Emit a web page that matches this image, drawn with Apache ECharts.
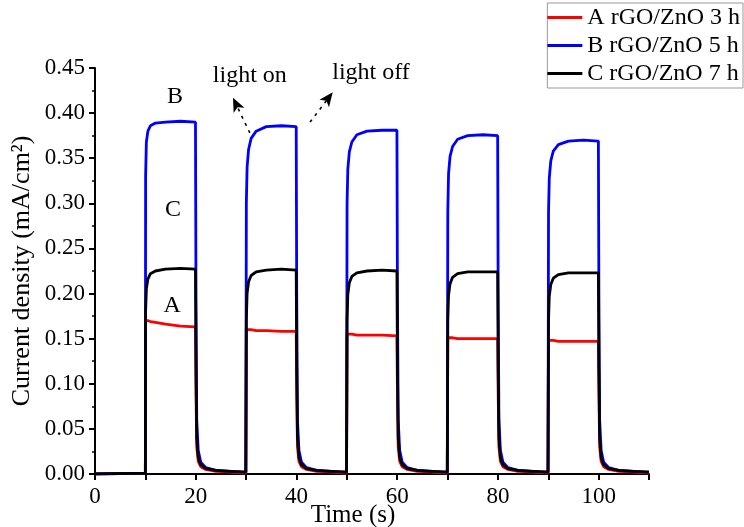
<!DOCTYPE html>
<html>
<head>
<meta charset="utf-8">
<script src="https://cdn.jsdelivr.net/npm/echarts@6/dist/echarts.min.js"></script>
<style>html,body{margin:0;padding:0;background:#fff}#c{width:744px;height:527px}</style>
</head>
<body>
<div id="c"></div>
<script>
// Time (s)
const time = [0,
 10,10.05,10.2,10.5,11,12,14,17,19.95,20.05,20.2,20.5,21,22,24,27,29.95,
 30,30.05,30.2,30.5,31,32,34,37,39.95,40.05,40.2,40.5,41,42,44,47,49.95,
 50,50.05,50.2,50.5,51,52,54,57,59.95,60.05,60.2,60.5,61,62,64,67,69.95,
 70,70.05,70.2,70.5,71,72,74,77,79.95,80.05,80.2,80.5,81,82,84,87,89.95,
 90,90.05,90.2,90.5,91,92,94,97,99.95,100.05,100.2,100.5,101,102,104,107,110];

// A rGO/ZnO 3 h
const valuesA = [0,
 0.001,0.170,0.171,0.170,0.169,0.168,0.166,0.164,0.163,0.09,0.03,0.014,0.008,0.005,0.003,0.002,0.001,
 0.001,0.160,0.161,0.160,0.160,0.159,0.159,0.158,0.158,0.09,0.03,0.014,0.008,0.005,0.003,0.002,0.001,
 0.001,0.155,0.156,0.155,0.155,0.154,0.154,0.154,0.153,0.09,0.03,0.014,0.008,0.005,0.003,0.002,0.001,
 0.001,0.151,0.151,0.151,0.151,0.150,0.150,0.150,0.150,0.09,0.03,0.014,0.008,0.005,0.003,0.002,0.001,
 0.001,0.148,0.148,0.148,0.148,0.147,0.147,0.147,0.147,0.09,0.03,0.014,0.008,0.005,0.003,0.002,0.001];

// B rGO/ZnO 5 h
const valuesB = [0,
 0.001,0.330,0.368,0.380,0.386,0.389,0.390,0.391,0.390,0.20,0.06,0.026,0.013,0.007,0.004,0.003,0.002,
 0.002,0.300,0.340,0.360,0.372,0.380,0.385,0.386,0.385,0.20,0.06,0.026,0.013,0.007,0.004,0.003,0.002,
 0.002,0.300,0.338,0.357,0.368,0.376,0.380,0.381,0.381,0.20,0.06,0.026,0.013,0.007,0.004,0.003,0.002,
 0.002,0.290,0.333,0.352,0.363,0.371,0.375,0.376,0.375,0.20,0.06,0.026,0.013,0.007,0.004,0.003,0.002,
 0.002,0.290,0.328,0.347,0.358,0.365,0.369,0.370,0.369,0.20,0.06,0.026,0.013,0.007,0.004,0.003,0.002];

// C rGO/ZnO 7 h
const valuesC = [0,
 0.001,0.180,0.205,0.216,0.222,0.225,0.227,0.228,0.227,0.12,0.04,0.018,0.010,0.006,0.004,0.003,0.002,
 0.002,0.170,0.200,0.213,0.220,0.224,0.226,0.227,0.226,0.12,0.04,0.018,0.010,0.006,0.004,0.003,0.002,
 0.002,0.170,0.199,0.212,0.219,0.223,0.225,0.226,0.225,0.12,0.04,0.018,0.010,0.006,0.004,0.003,0.002,
 0.002,0.170,0.198,0.211,0.218,0.222,0.224,0.224,0.224,0.12,0.04,0.018,0.010,0.006,0.004,0.003,0.002,
 0.002,0.170,0.197,0.210,0.217,0.221,0.223,0.223,0.223,0.12,0.04,0.018,0.010,0.006,0.004,0.003,0.002];

const seriesNames = ['A rGO/ZnO 3 h', 'B rGO/ZnO 5 h', 'C rGO/ZnO 7 h'];
const seriesColors = ['#ff0000', '#0000ff', '#000000'];
const xTicks = [0, 20, 40, 60, 80, 100];

// annotations (data coordinates)
const curveLabels = [
  {name: 'B', coord: [15.9, 0.418]},
  {name: 'C', coord: [15.5, 0.293]},
  {name: 'A', coord: [15.3, 0.187]},
  {name: 'light on', coord: [30.75, 0.441]},
  {name: 'light off', coord: [54.8, 0.445]}
];
const arrows = [
  [[30.75, 0.378], [27.4, 0.417]],
  [[42.7, 0.390], [47.2, 0.423]]
];

const FONT = 'Liberation Serif';
const allValues = [valuesA, valuesB, valuesC];

const chart = echarts.init(document.getElementById('c'), null, {renderer: 'canvas'});
const series = allValues.map((vals, k) => {
  const s = {
    name: seriesNames[k],
    type: 'line',
    data: time.map((t, i) => [t, vals[i]]),
    symbol: 'none',
    lineStyle: {color: seriesColors[k], width: 2.8},
    itemStyle: {color: seriesColors[k]},
    z: 2 + k
  };
  if (k === 2) {
    s.markPoint = {
      symbol: 'circle', symbolSize: 0, silent: true,
      label: {show: true, position: 'inside', formatter: '{b}', color: '#000',
              fontFamily: FONT, fontSize: 24},
      data: curveLabels.map(c => ({name: c.name, coord: c.coord}))
    };
    s.markLine = {
      silent: true, symbol: ['none', 'arrow'], symbolSize: [9, 14],
      lineStyle: {color: '#000', width: 1.6, type: [3, 5]},
      label: {show: false},
      data: arrows.map(a => [{coord: a[0]}, {coord: a[1]}])
    };
  }
  return s;
});

chart.setOption({
  animation: false,
  backgroundColor: '#fff',
  grid: {left: 95, right: 95, top: 68, bottom: 53, containLabel: false, outerBoundsMode: 'none'},
  legend: {
    orient: 'vertical', right: 1, top: 3,
    data: seriesNames,
    icon: 'rect', itemWidth: 35, itemHeight: 3, itemGap: 3,
    padding: [2, 3, 2, 0],
    borderColor: '#999', borderWidth: 1,
    textStyle: {fontFamily: FONT, fontSize: 24, color: '#000', lineHeight: 25}
  },
  xAxis: {
    type: 'value', min: 0, max: 110, interval: 10,
    name: 'Time (s)', nameLocation: 'middle', nameGap: 29, nameMoveOverlap: false,
    nameTextStyle: {fontFamily: FONT, fontSize: 25, color: '#000', padding: [0, 38, 0, 0]},
    axisLine: {show: true, lineStyle: {color: '#000', width: 2}},
    axisTick: {show: true, length: 6, lineStyle: {color: '#000', width: 2}},
    axisLabel: {
      fontFamily: FONT, fontSize: 23, color: '#000', margin: 11,
      formatter: v => xTicks.indexOf(v) >= 0 ? String(v) : ''
    },
    splitLine: {show: false}
  },
  yAxis: {
    type: 'value', min: 0, max: 0.45, interval: 0.05,
    name: 'Current density (mA/cm²)', nameLocation: 'middle', nameGap: 60, nameMoveOverlap: false,
    nameTextStyle: {fontFamily: FONT, fontSize: 26, color: '#000'},
    axisLine: {show: true, lineStyle: {color: '#000', width: 2}},
    axisTick: {show: true, length: 6, lineStyle: {color: '#000', width: 2}},
    minorTick: {show: true, splitNumber: 2, length: 3, lineStyle: {color: '#000', width: 1.5}},
    axisLabel: {fontFamily: FONT, fontSize: 23, color: '#000', margin: 10,
                formatter: v => v.toFixed(2)},
    splitLine: {show: false}
  },
  series: series
});
</script>
</body>
</html>
